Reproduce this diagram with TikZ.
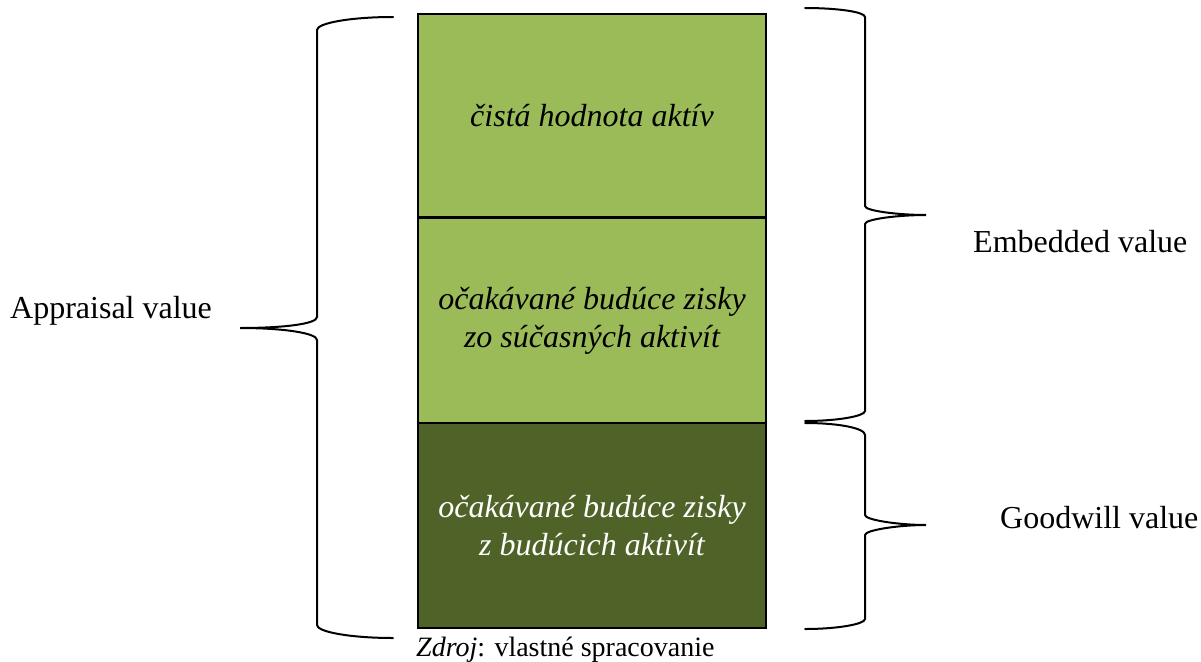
\documentclass[tikz,border=0pt]{standalone}
\usepackage{fontspec}
\setmainfont{Liberation Serif}
\definecolor{oliveLight}{HTML}{9BBB59}
\definecolor{oliveDark}{HTML}{4F6228}
\begin{document}
\begin{tikzpicture}[x=1pt,y=-1pt,
  part/.style={draw=black,line width=2.2pt,minimum width=348pt,inner sep=0pt,
    align=center,font=\fontsize{32}{38}\selectfont\itshape},
  brace/.style={draw=black,line width=2pt,line cap=round},
  label/.style={anchor=west,inner sep=0pt,font=\fontsize{32}{37}\selectfont}]
\useasboundingbox (0,0) rectangle (1201,661);

% stacked value components
\node[part,fill=oliveLight,minimum height=203pt] (net) at (592,115.5) {čistá hodnota aktív};
\node[part,fill=oliveLight,minimum height=205pt] (current) at (592,320.5)
  {očakávané budúce zisky\\zo súčasných aktivít};
\node[part,fill=oliveDark,minimum height=205pt,text=white] (future) at (592,525.5)
  {očakávané budúce zisky\\z budúcich aktivít};

% left brace: appraisal value
\draw[brace] (393,17) .. controls (351,17) and (317,23) .. (317,30) -- (317,317)
  .. controls (317,324) and (283,328) .. (240,328)
  .. controls (283,328) and (317,333) .. (317,340) -- (317,625)
  .. controls (317,632) and (351,638) .. (393,638);

% right brace: embedded value
\draw[brace] (805,8) .. controls (838,8) and (865,12) .. (865,17) -- (865,206)
  .. controls (865,211) and (899,215) .. (926,215)
  .. controls (899,215) and (865,219) .. (865,224) -- (865,411)
  .. controls (865,416) and (838,421) .. (805,421);

% right brace: goodwill value
\draw[brace] (805,423) .. controls (838,423) and (865,428) .. (865,435) -- (865,515)
  .. controls (865,520) and (899,525) .. (926,525)
  .. controls (899,525) and (865,530) .. (865,535) -- (865,619)
  .. controls (865,624) and (838,629) .. (805,629);

% labels
\node[label] (appraisal) at (10,311) {Appraisal value};
\node[label] (embedded) at (973,242) {Embedded value};
\node[label] (goodwill) at (1000,518) {Goodwill value};
\node[anchor=west,inner sep=0pt,font=\fontsize{28}{32}\selectfont] (source) at (416,650)
  {\textit{Zdroj}: vlastné spracovanie};
\end{tikzpicture}
\end{document}
